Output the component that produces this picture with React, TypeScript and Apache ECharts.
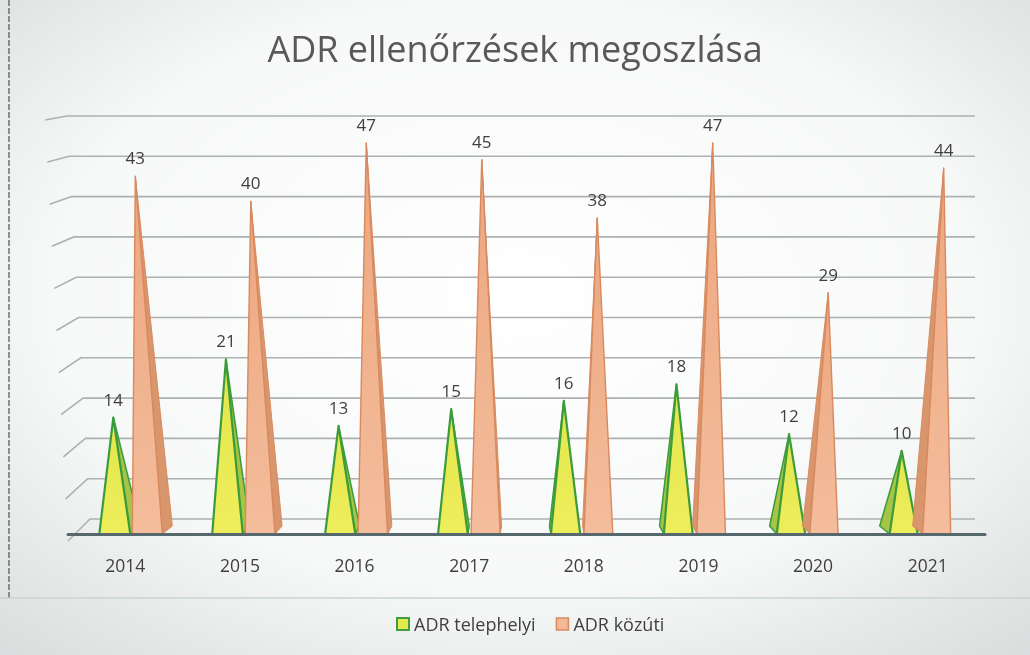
import React, { useEffect, useRef } from "react";
import * as echarts from "echarts";

const categories = ["2014", "2015", "2016", "2017", "2018", "2019", "2020", "2021"];
const telephelyi = [14, 21, 13, 15, 16, 18, 12, 10];
const kozuti = [43, 40, 47, 45, 38, 47, 29, 44];
const wallTicks = [0, 5, 10, 15, 20, 25, 30, 35, 40, 45, 50];

const FONT = "'Open Sans', 'Noto Sans', sans-serif";

const greenPal = {
  front: { type: "linear", x: 0, y: 0, x2: 0, y2: 1, colorStops: [{ offset: 0, color: "#e2e64a" }, { offset: 1, color: "#eeee5c" }] },
  side: "#a7c444",
  stroke: "#3c9c3c",
  strokeW: 2.2,
  fl: [-26, -38],
  fr: [5, -10],
  ax: [-12, -26],
};
const orangePal = {
  front: { type: "linear", x: 0, y: 0, x2: 0, y2: 1, colorStops: [{ offset: 0, color: "#eca67e" }, { offset: 1, color: "#f4bd9c" }] },
  side: "#d9956c",
  stroke: "#d78a5e",
  strokeW: 1.4,
  fl: [7, -5],
  fr: [37, 23],
  ax: [10, 16],
};

const lerp = (a: number[], t: number) => a[0] + (a[1] - a[0]) * t;

function makePyramid(pal: any) {
  return (params: any, api: any) => {
    const idx = api.value(0);
    const v = api.value(1);
    const base = api.coord([idx, 0]);
    const top = api.coord([idx, v]);
    const first = api.coord([0, 0])[0];
    const last = api.coord([categories.length - 1, 0])[0];
    const cat = base[0];
    const t = (cat - first) / (last - first);
    const by = base[1];
    const xl = cat + lerp(pal.fl, t);
    const xr = cat + lerp(pal.fr, t);
    const apex = [cat + lerp(pal.ax, t), top[1]];
    const d = 10 * (1 - 2 * t);
    const sidePts =
      d >= 0
        ? [[xr, by], [xr + d, by - 8], apex]
        : [[xl, by], [xl + d, by - 8], apex];
    return {
      type: "group",
      children: [
        {
          type: "polygon",
          shape: { points: sidePts },
          style: { fill: pal.side, stroke: pal.stroke, lineWidth: pal.strokeW * 0.7, lineJoin: "round" },
        },
        {
          type: "polygon",
          shape: { points: [[xl, by], [xr, by], apex] },
          style: { fill: pal.front, stroke: pal.stroke, lineWidth: pal.strokeW, lineJoin: "round" },
        },
        {
          type: "text",
          x: apex[0],
          y: apex[1] - 10,
          style: {
            text: String(v),
            fontSize: 17,
            fontFamily: FONT,
            fill: "#3f3f3f",
            align: "center",
            verticalAlign: "bottom",
          },
        },
      ],
    };
  };
}

function wallLine(params: any, api: any) {
  const v = api.value(1);
  const y = api.coord([0, v])[1];
  const t = v / 50;
  const wallL = 90 - 23 * t;
  const floorL = wallL - 22;
  const dy = 22 - 18 * t;
  const xR = params.coordSys.x + params.coordSys.width;
  return {
    type: "polyline",
    shape: { points: [[floorL, y + dy], [wallL, y], [xR, y]] },
    style: { stroke: "#adb1b1", lineWidth: 1.6, fill: null },
  };
}

export default function App() {
  const ref = useRef<HTMLDivElement>(null);
  useEffect(() => {
    if (!ref.current) return;
    const chart = echarts.init(ref.current, undefined, { renderer: "svg" });
    chart.setOption({
      animation: false,
      backgroundColor: {
        type: "radial",
        x: 0.5,
        y: 0.45,
        r: 0.75,
        colorStops: [
          { offset: 0, color: "#ffffff" },
          { offset: 0.6, color: "#f7f8f8" },
          { offset: 1, color: "#d9dcdc" },
        ],
      },
      title: {
        text: "ADR ellenőrzések megoszlása",
        left: "center",
        top: 25,
        textStyle: { fontSize: 36, fontWeight: "normal", color: "#595959", fontFamily: FONT },
      },
      legend: {
        top: 610,
        left: 391,
        itemWidth: 12,
        itemHeight: 12,
        itemGap: 20,
        icon: "rect",
        textStyle: { fontSize: 18, color: "#404040", fontFamily: FONT },
        data: [
          { name: "ADR telephelyi", itemStyle: { color: "#e6e94c", borderColor: "#3f9e3f", borderWidth: 2 } },
          { name: "ADR közúti", itemStyle: { color: "#f3b896", borderColor: "#d78a5e", borderWidth: 1.5 } },
        ],
      },
      grid: [
        { left: 68, right: 45, top: 118, bottom: 121 },
        { left: 68, right: 55, top: 116, bottom: 136 },
      ],
      xAxis: [
        {
          type: "category",
          gridIndex: 0,
          data: categories,
          offset: 6,
          axisLine: { show: true, lineStyle: { color: "#56686d", width: 3 } },
          axisTick: { show: false },
          axisLabel: { fontSize: 17.5, color: "#3f3f3f", fontFamily: FONT, margin: 16 },
          z: 5,
        },
        { type: "value", gridIndex: 1, min: 0, max: 1, show: false },
      ],
      yAxis: [
        { type: "value", gridIndex: 0, min: 0, max: 50, show: false },
        { type: "value", gridIndex: 1, min: 0, max: 50, show: false },
      ],
      graphic: [
        { type: "line", shape: { x1: 9, y1: 0, x2: 9, y2: 600 }, style: { stroke: "#6b6f70", lineWidth: 1.5, lineDash: [6, 2] }, z: 0 },
        { type: "line", shape: { x1: 0, y1: 598, x2: 1030, y2: 598 }, style: { stroke: "#c9d5d1", lineWidth: 1.5 }, z: 0 },
      ],
      series: [
        {
          type: "custom",
          name: "wall",
          xAxisIndex: 1,
          yAxisIndex: 1,
          renderItem: wallLine,
          data: wallTicks.map((v) => [0, v]),
          z: 1,
          silent: true,
        },
        {
          type: "custom",
          name: "ADR telephelyi",
          xAxisIndex: 0,
          yAxisIndex: 0,
          renderItem: makePyramid(greenPal),
          itemStyle: { color: "#e6e94c" },
          data: telephelyi.map((v, i) => [i, v]),
          z: 3,
        },
        {
          type: "custom",
          name: "ADR közúti",
          xAxisIndex: 0,
          yAxisIndex: 0,
          renderItem: makePyramid(orangePal),
          itemStyle: { color: "#f3b896" },
          data: kozuti.map((v, i) => [i, v]),
          z: 3,
        },
      ],
    });
    return () => chart.dispose();
  }, []);
  return <div ref={ref} style={{ position: "fixed", left: 0, top: 0, width: 1030, height: 655 }} />;
}
